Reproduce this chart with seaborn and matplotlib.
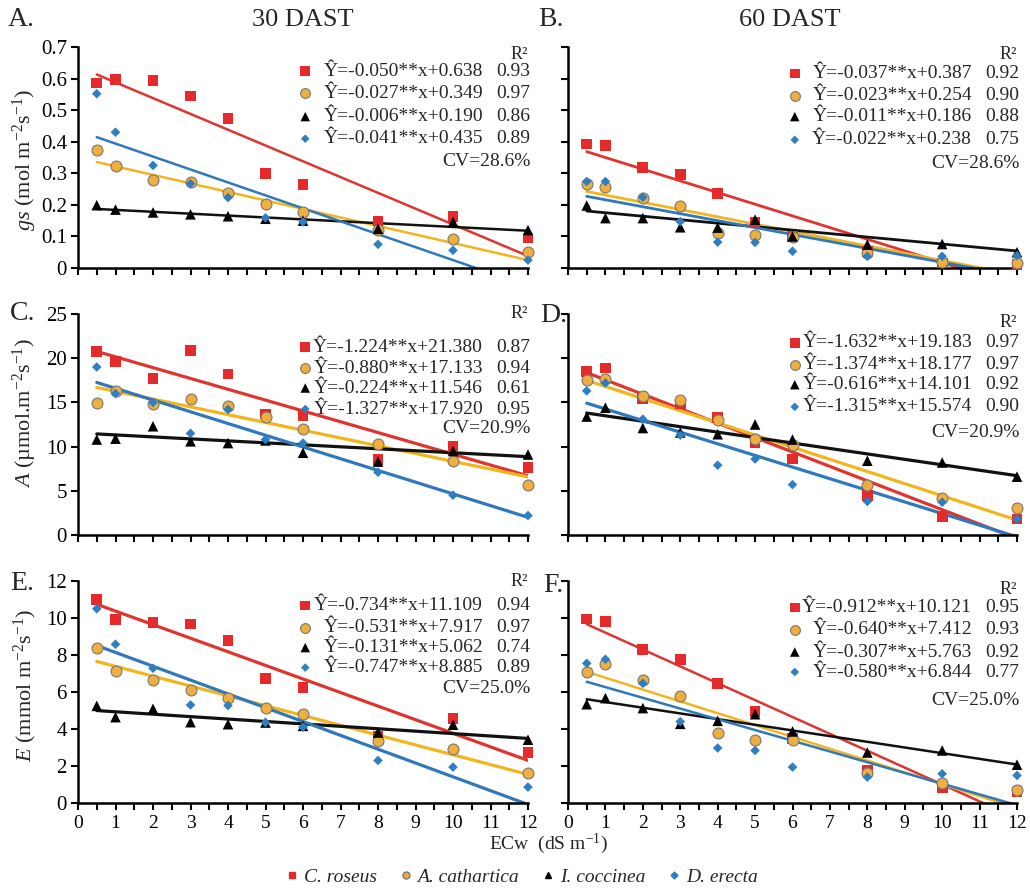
import numpy as np
import pandas as pd
import matplotlib.pyplot as plt
from matplotlib.ticker import MultipleLocator, FuncFormatter
from matplotlib.lines import Line2D
import seaborn as sns

sns.set_style("ticks")
plt.rcParams['font.family'] = 'serif'
plt.rcParams['font.serif'] = ['Liberation Serif', 'DejaVu Serif']
plt.rcParams['mathtext.fontset'] = 'custom'
plt.rcParams['mathtext.rm'] = 'Liberation Serif'
plt.rcParams['mathtext.it'] = 'Liberation Serif:italic'

# --- data ---
ecw = [0.5, 1, 2, 3, 4, 5, 6, 8, 10, 12]
species = ["C. roseus", "A. cathartica", "I. coccinea", "D. erecta"]

# stomatal conductance gs
gs_30 = {
    "C. roseus":     [0.586, 0.597, 0.593, 0.545, 0.474, 0.300, 0.264, 0.149, 0.162, 0.095],
    "A. cathartica": [0.373, 0.323, 0.278, 0.271, 0.238, 0.204, 0.176, 0.120, 0.092, 0.050],
    "I. coccinea":   [0.199, 0.185, 0.176, 0.170, 0.164, 0.156, 0.150, 0.124, 0.146, 0.120],
    "D. erecta":     [0.552, 0.430, 0.325, 0.267, 0.223, 0.159, 0.146, 0.075, 0.056, 0.025],
}
gs_60 = {
    "C. roseus":     [0.393, 0.387, 0.319, 0.297, 0.237, 0.145, 0.100, 0.053, 0.016, 0.012],
    "A. cathartica": [0.265, 0.255, 0.223, 0.197, 0.110, 0.103, 0.098, 0.047, 0.020, 0.016],
    "I. coccinea":   [0.198, 0.158, 0.158, 0.129, 0.128, 0.153, 0.100, 0.074, 0.076, 0.050],
    "D. erecta":     [0.274, 0.274, 0.224, 0.147, 0.082, 0.081, 0.053, 0.037, 0.037, 0.039],
}
# net photosynthesis A
a_30 = {
    "C. roseus":     [20.8, 19.6, 17.7, 20.9, 18.2, 13.7, 13.5, 8.5, 10.0, 7.6],
    "A. cathartica": [14.9, 16.3, 14.8, 15.4, 14.6, 13.4, 12.0, 10.3, 8.4, 5.6],
    "I. coccinea":   [10.8, 10.9, 12.3, 10.6, 10.4, 10.7, 9.3, 8.3, 9.5, 9.1],
    "D. erecta":     [19.0, 16.0, 15.0, 11.5, 14.2, 10.8, 10.4, 7.1, 4.5, 2.2],
}
a_60 = {
    "C. roseus":     [18.5, 18.9, 15.4, 14.9, 13.3, 10.5, 8.6, 4.5, 2.1, 1.8],
    "A. cathartica": [17.5, 17.7, 15.7, 15.3, 13.0, 10.9, 10.2, 5.7, 4.2, 3.1],
    "I. coccinea":   [13.4, 14.4, 12.1, 11.6, 11.4, 12.5, 10.8, 8.4, 8.2, 6.6],
    "D. erecta":     [16.3, 17.2, 13.1, 11.3, 7.9, 8.6, 5.7, 3.8, 3.7, 1.8],
}
# transpiration E
e_30 = {
    "C. roseus":     [11.0, 9.93, 9.75, 9.68, 8.78, 6.74, 6.26, 3.6, 4.55, 2.75],
    "A. cathartica": [8.36, 7.16, 6.65, 6.10, 5.67, 5.13, 4.80, 3.33, 2.91, 1.62],
    "I. coccinea":   [5.25, 4.64, 5.09, 4.37, 4.26, 4.35, 4.17, 3.81, 4.23, 3.42],
    "D. erecta":     [10.5, 8.58, 7.28, 5.30, 5.27, 4.35, 4.10, 2.30, 1.94, 0.86],
}
e_60 = {
    "C. roseus":     [9.95, 9.80, 8.31, 7.77, 6.47, 4.95, 3.50, 1.76, 0.81, 0.60],
    "A. cathartica": [7.07, 7.52, 6.65, 5.81, 3.81, 3.42, 3.42, 1.62, 1.08, 0.68],
    "I. coccinea":   [5.34, 5.67, 5.13, 4.28, 4.44, 4.80, 3.87, 2.73, 2.84, 2.07],
    "D. erecta":     [7.55, 7.77, 6.47, 4.40, 2.97, 2.84, 1.94, 1.40, 1.58, 1.49],
}

# regression equations (slope, intercept) and R2 per species
gs_30_slope = [-0.050, -0.027, -0.006, -0.041]
gs_30_icpt = [0.638, 0.349, 0.190, 0.435]
gs_30_r2 = ["0.93", "0.97", "0.86", "0.89"]
gs_60_slope = [-0.037, -0.023, -0.011, -0.022]
gs_60_icpt = [0.387, 0.254, 0.186, 0.238]
gs_60_r2 = ["0.92", "0.90", "0.88", "0.75"]
a_30_slope = [-1.224, -0.880, -0.224, -1.327]
a_30_icpt = [21.380, 17.133, 11.546, 17.920]
a_30_r2 = ["0.87", "0.94", "0.61", "0.95"]
a_60_slope = [-1.632, -1.374, -0.616, -1.315]
a_60_icpt = [19.183, 18.177, 14.101, 15.574]
a_60_r2 = ["0.97", "0.97", "0.92", "0.90"]
e_30_slope = [-0.734, -0.531, -0.131, -0.747]
e_30_icpt = [11.109, 7.917, 5.062, 8.885]
e_30_r2 = ["0.94", "0.97", "0.74", "0.89"]
e_60_slope = [-0.912, -0.640, -0.307, -0.580]
e_60_icpt = [10.121, 7.412, 5.763, 6.844]
e_60_r2 = ["0.95", "0.93", "0.92", "0.77"]

cv_gs = "CV=28.6%"
cv_a = "CV=20.9%"
cv_e = "CV=25.0%"

# --- styles ---
pt_color = {"C. roseus": "#E52A2B", "A. cathartica": "#F0AE3C",
            "I. coccinea": "#000000", "D. erecta": "#2E7EC3"}
ln_color = {"C. roseus": "#E0342F", "A. cathartica": "#F2B51E",
            "I. coccinea": "#111111", "D. erecta": "#2F78BC"}
marker = {"C. roseus": "s", "A. cathartica": "o", "I. coccinea": "^", "D. erecta": "D"}
msize = {"C. roseus": 60, "A. cathartica": 62, "I. coccinea": 58, "D. erecta": 24}
medge = {"C. roseus": "none", "A. cathartica": "#777777", "I. coccinea": "none", "D. erecta": "none"}

W, H = 1030, 894
fig = plt.figure(figsize=(W / 100, H / 100), dpi=100)


def px_rect(x0, y0, x1, y1):
    return [x0 / W, 1 - y1 / H, (x1 - x0) / W, (y1 - y0) / H]


panels = [
    dict(rect=px_rect(78, 47, 528, 268), vals=gs_30, sl=gs_30_slope, ic=gs_30_icpt, r2=gs_30_r2, lw=1.8,
         cv=cv_gs, ymax=0.7, ystep=0.1, ylab=True, xlab=False, rows=[0.965, 0.89, 0.79, 0.685, 0.585, 0.48]),
    dict(rect=px_rect(568, 47, 1017, 268), vals=gs_60, sl=gs_60_slope, ic=gs_60_icpt, r2=gs_60_r2, lw=2.0,
         cv=cv_gs, ymax=0.7, ystep=0.1, ylab=False, xlab=False, rows=[0.965, 0.88, 0.78, 0.685, 0.58, 0.475]),
    dict(rect=px_rect(78, 314, 528, 535), vals=a_30, sl=a_30_slope, ic=a_30_icpt, r2=a_30_r2, lw=2.3,
         cv=cv_a, ymax=25, ystep=5, ylab=True, xlab=False, rows=[1.0, 0.85, 0.755, 0.665, 0.57, 0.48]),
    dict(rect=px_rect(568, 314, 1017, 535), vals=a_60, sl=a_60_slope, ic=a_60_icpt, r2=a_60_r2, lw=2.3,
         cv=cv_a, ymax=25, ystep=5, ylab=False, xlab=False, rows=[0.96, 0.87, 0.77, 0.68, 0.58, 0.465]),
    dict(rect=px_rect(78, 581, 528, 803), vals=e_30, sl=e_30_slope, ic=e_30_icpt, r2=e_30_r2, lw=2.3,
         cv=cv_e, ymax=12, ystep=2, ylab=True, xlab=True, rows=[1.0, 0.89, 0.79, 0.70, 0.61, 0.515]),
    dict(rect=px_rect(568, 581, 1017, 803), vals=e_60, sl=e_60_slope, ic=e_60_icpt, r2=e_60_r2, lw=1.8,
         cv=cv_e, ymax=12, ystep=2, ylab=False, xlab=True, rows=[0.96, 0.88, 0.78, 0.68, 0.59, 0.46]),
]

fs_tick = 15
fs_eq = 14
fit_x = np.array([ecw[0], ecw[-1]])

for p in panels:
    ax = fig.add_axes(p["rect"])
    # regression lines
    for i, sp in enumerate(species):
        fit_y = p["ic"][i] + p["sl"][i] * fit_x
        sns.lineplot(x=fit_x, y=fit_y, color=ln_color[sp], linewidth=p["lw"], ax=ax, zorder=2)
    # observed points
    for sp in species:
        df = pd.DataFrame({"ECw": ecw, "val": p["vals"][sp]})
        sns.scatterplot(data=df, x="ECw", y="val", marker=marker[sp], color=pt_color[sp],
                        s=msize[sp], edgecolor=medge[sp], linewidth=0.8, ax=ax,
                        zorder=3, clip_on=False, legend=False)

    ax.set_xlim(0, 12)
    ax.set_ylim(0, p["ymax"])
    ax.set_xlabel("")
    ax.set_ylabel("")
    sns.despine(ax=ax)
    for s in ["left", "bottom"]:
        ax.spines[s].set_linewidth(1.8)
        ax.spines[s].set_color("black")
    ax.xaxis.set_major_locator(MultipleLocator(1))
    ax.xaxis.set_minor_locator(MultipleLocator(0.5))
    ax.yaxis.set_major_locator(MultipleLocator(p["ystep"]))
    ax.tick_params(which="both", direction="out", length=5, width=1.5, colors="black",
                   labelsize=fs_tick, pad=3)
    ax.tick_params(axis="x", labelsize=14, pad=4)
    ax.yaxis.set_major_formatter(FuncFormatter(lambda v, _: f"{v:g}"))
    if not p["xlab"]:
        ax.tick_params(axis="x", labelbottom=False)
    if not p["ylab"]:
        ax.tick_params(axis="y", labelleft=False)

    # in-panel regression legend
    rows = p["rows"]
    ax.text(1.0, rows[0], "R²", transform=ax.transAxes, ha="right", va="center", fontsize=fs_eq - 1)
    for i, sp in enumerate(species):
        y = rows[i + 1]
        ax.scatter([0.505], [y], transform=ax.transAxes, marker=marker[sp], color=pt_color[sp],
                   s=msize[sp] * 0.8, edgecolor=medge[sp], linewidth=0.8, clip_on=False, zorder=4)
        eq = f"Ŷ={p['sl'][i]:.3f}**x+{p['ic'][i]:.3f}"
        ax.text(0.9, y, eq, transform=ax.transAxes, ha="right", va="center", fontsize=fs_eq)
        ax.text(1.005, y, p["r2"][i], transform=ax.transAxes, ha="right", va="center", fontsize=fs_eq)
    ax.text(1.005, rows[5], p["cv"], transform=ax.transAxes, ha="right", va="center", fontsize=fs_eq)

# titles, panel letters and axis labels
fig.text(303 / W, 1 - 20 / H, "30 DAST", ha="center", va="center", fontsize=19)
fig.text(790 / W, 1 - 20 / H, "60 DAST", ha="center", va="center", fontsize=19)
for lab, x, y in [("A.", 8, 20), ("B.", 538, 20), ("C.", 10, 313),
                  ("D.", 540, 316), ("E.", 10, 583), ("F.", 543, 585)]:
    fig.text(x / W, 1 - y / H, lab, ha="left", va="center", fontsize=20)

fig.text(25 / W, 1 - 160 / H, r"$\mathit{gs}$ (mol m$^{-2}$s$^{-1}$)", rotation=90,
         ha="center", va="center", fontsize=16)
fig.text(25 / W, 1 - 413 / H, r"$\mathit{A}$ (µmol.m$^{-2}$s$^{-1}$)", rotation=90,
         ha="center", va="center", fontsize=16)
fig.text(25 / W, 1 - 685 / H, r"$\mathit{E}$ (mmol m$^{-2}$s$^{-1}$)", rotation=90,
         ha="center", va="center", fontsize=16)
fig.text(548 / W, 1 - 844 / H, r"ECw  (dS m$^{-1}$)", ha="center", va="center", fontsize=14)

handles = [Line2D([], [], linestyle="none", marker=marker[sp], color=pt_color[sp],
                  markeredgecolor=pt_color[sp] if medge[sp] == "none" else medge[sp],
                  markersize=5 if sp != "D. erecta" else 3.5) for sp in species]
fig.legend(handles, species, loc="center", bbox_to_anchor=(520 / W, 1 - 877 / H), ncol=4,
           frameon=False, prop={"family": "serif", "style": "italic", "size": 14},
           handletextpad=0.1, columnspacing=1.0, handlelength=1.0)

fig.savefig("out.png", dpi=100)
